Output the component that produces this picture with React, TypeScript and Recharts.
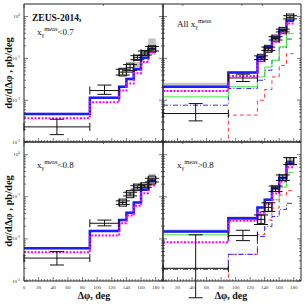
import React from "react";
import {
  ComposedChart,
  Line,
  Area,
  Scatter,
  ErrorBar,
  XAxis,
  YAxis,
  ReferenceArea,
} from "recharts";

// bin edges / centres in delta-phi (deg)
const edges = [0, 90, 130, 140, 150, 160, 170, 180];
const centers = [45, 110, 135, 145, 155, 165, 175];

const xMajor = [0, 20, 40, 60, 80, 100, 120, 140, 160, 180];
const yMajor = [0.001, 0.01, 0.1, 1];

// x_gamma^meas < 0.7
const lt07Blue = [0.0047, 0.0115, 0.021, 0.032, 0.055, 0.104, 0.17];
const lt07Magenta = [0.0037, 0.0089, 0.017, 0.025, 0.044, 0.082, 0.141];
const lt07BandLo = [0.0044, 0.0108, 0.0195, 0.03, 0.055, 0.098, 0.12];
const lt07BandHi = [0.005, 0.0122, 0.0225, 0.035, 0.082, 0.155, 0.3];
const lt07Data = [0.0023, 0.017, 0.047, 0.06, 0.104, 0.134, 0.17];
const lt07StatLo = [0.0015, 0.0138, 0.04, 0.051, 0.093, 0.12, 0.15];
const lt07StatHi = [0.0035, 0.023, 0.055, 0.071, 0.116, 0.15, 0.193];
const lt07SysLo = [null, null, 0.038, 0.047, 0.09, 0.118, 0.14];
const lt07SysHi = [null, null, 0.058, 0.077, 0.12, 0.155, 0.2];

// all x_gamma^meas
const allBlue = [0.021, 0.046, 0.107, 0.186, 0.31, 0.48, 0.8];
const allMagenta = [0.0166, 0.038, 0.085, 0.15, 0.25, 0.4, 0.68];
const allGreen = [0.012, 0.021, 0.036, 0.062, 0.09, 0.19, 0.39];
const allDashDot = [0.0076, 0.019, 0.03, 0.052, 0.09, 0.18, 0.29];
const allRed = [0.0002, 0.0044, 0.01, 0.018, 0.036, 0.068, 0.13];
const allBandLo = [0.0195, 0.042, 0.098, 0.17, 0.28, 0.44, 0.74];
const allBandHi = [0.026, 0.049, 0.115, 0.2, 0.33, 0.52, 0.88];
const allData = [0.0048, 0.034, 0.104, 0.17, 0.3, 0.46, 0.96];
const allStatLo = [0.0032, 0.028, 0.094, 0.155, 0.275, 0.43, 0.88];
const allStatHi = [0.0083, 0.042, 0.115, 0.186, 0.33, 0.5, 1.05];
const allSysLo = [null, null, 0.085, 0.14, 0.25, 0.39, 0.8];
const allSysHi = [null, null, 0.125, 0.205, 0.36, 0.55, 1.15];

// x_gamma^meas < 0.8
const lt08Blue = [0.006, 0.0155, 0.028, 0.042, 0.073, 0.147, 0.24];
const lt08Magenta = [0.0048, 0.012, 0.0235, 0.036, 0.061, 0.122, 0.186];
const lt08BandLo = [0.0057, 0.0148, 0.0265, 0.04, 0.069, 0.138, 0.18];
const lt08BandHi = [0.0064, 0.0165, 0.0295, 0.045, 0.078, 0.158, 0.35];
const lt08Data = [0.0035, 0.0235, 0.073, 0.116, 0.167, 0.18, 0.25];
const lt08StatLo = [0.0024, 0.0204, 0.066, 0.105, 0.152, 0.165, 0.225];
const lt08StatHi = [0.005, 0.028, 0.08, 0.128, 0.183, 0.197, 0.275];
const lt08SysLo = [null, null, 0.06, 0.095, 0.14, 0.15, 0.2];
const lt08SysHi = [null, null, 0.088, 0.14, 0.2, 0.215, 0.31];

// x_gamma^meas > 0.8
const gt08Blue = [0.0149, 0.031, 0.056, 0.085, 0.16, 0.28, 0.63];
const gt08Magenta = [0.0083, 0.027, 0.042, 0.067, 0.12, 0.23, 0.5];
const gt08Green = [0.0125, 0.029, 0.045, 0.07, 0.085, 0.17, 0.38];
const gt08DashDot = [0.0019, 0.0043, 0.0114, 0.0196, 0.034, 0.05, 0.07];
const gt08Red = [0.0002, 0.0043, 0.0125, 0.028, 0.054, 0.11, 0.14];
const gt08BandLo = [0.0138, 0.029, 0.052, 0.08, 0.15, 0.26, 0.58];
const gt08BandHi = [0.0168, 0.034, 0.06, 0.092, 0.175, 0.31, 0.78];
const gt08Data = [0.002, 0.012, 0.029, 0.056, 0.155, 0.285, 0.7];
const gt08StatLo = [0.0004, 0.0091, 0.022, 0.045, 0.134, 0.245, 0.58];
const gt08StatHi = [0.0125, 0.016, 0.037, 0.072, 0.18, 0.33, 0.85];
const gt08SysLo = [null, null, 0.023, 0.045, 0.134, 0.245, 0.58];
const gt08SysHi = [null, null, 0.037, 0.072, 0.18, 0.33, 0.85];

// minor ticks: every 4 deg, 2..9 per decade
const xTicks = Array.from({ length: 48 }, (_, i) => i * 4);
const yTicks = yMajor.flatMap((d) =>
  [1, 2, 3, 4, 5, 6, 7, 8, 9].map((m) => m * d)
).filter((v) => v < 2);

const SERIF = "'Liberation Serif', 'DejaVu Serif', serif";
const frame = { stroke: "#222", strokeWidth: 1 };

function XTick(props: any) {
  const { x, y, payload, side, label } = props;
  const v = payload.value;
  const major = xMajor.includes(v);
  const dir = side === "top" ? 1 : -1;
  return (
    <g>
      <line x1={x} x2={x} y1={y} y2={y + dir * (major ? 4 : 2)} stroke="#222" strokeWidth={0.6} />
      {label && major && (
        <text x={x} y={y + 7.5} fontSize={5} textAnchor="middle" fontFamily={SERIF} fill="#333">
          {v}
        </text>
      )}
    </g>
  );
}

function YTick(props: any) {
  const { x, y, payload, side, label } = props;
  const v = payload.value;
  const lg = Math.log10(v);
  const e = Math.round(lg);
  const major = Math.abs(lg - e) < 1e-6;
  const dir = side === "right" ? -1 : 1;
  return (
    <g>
      <line x1={x} x2={x + dir * (major ? 4 : 2)} y1={y} y2={y} stroke="#222" strokeWidth={0.6} />
      {label && major && (
        <text x={x - 4} y={y + 1.5} fontSize={5} textAnchor="end" fontFamily={SERIF} fill="#333">
          10
          <tspan fontSize={3.5} dy={-2}>
            {e}
          </tspan>
        </text>
      )}
    </g>
  );
}

interface PanelProps {
  margin: { top: number; right: number; bottom: number; left: number };
  blue: number[];
  magenta: number[];
  green?: number[];
  dashdot?: number[];
  red?: number[];
  bandLo: number[];
  bandHi: number[];
  data: number[];
  statLo: number[];
  statHi: number[];
  sysLo: (number | null)[];
  sysHi: (number | null)[];
  xLabels: boolean;
  yLabels: boolean;
}

function Panel(p: PanelProps) {
  const rows = edges.map((x, i) => {
    const k = Math.min(i, p.blue.length - 1);
    return {
      x,
      blue: p.blue[k],
      magenta: p.magenta[k],
      green: p.green ? p.green[k] : undefined,
      dashdot: p.dashdot ? p.dashdot[k] : undefined,
      red: p.red ? p.red[k] : undefined,
      band: [p.bandLo[k], p.bandHi[k]],
    };
  });
  const points = centers.map((x, i) => ({
    x,
    y: p.data[i],
    ex: [x - edges[i], edges[i + 1] - x],
    ey: [p.data[i] - p.statLo[i], p.statHi[i] - p.data[i]],
  }));

  return (
    <div style={{ position: "absolute", left: 0, top: 0 }}>
      <ComposedChart width={305} height={305} data={rows} margin={p.margin}>
        <XAxis
          dataKey="x"
          type="number"
          domain={[0, 190]}
          allowDataOverflow
          ticks={xTicks}
          interval={0}
          height={1}
          tickSize={0}
          tickMargin={0}
          tickLine={false}
          axisLine={frame}
          tick={(t: any) => <XTick {...t} side="bottom" label={p.xLabels} />}
        />
        <XAxis
          xAxisId="t"
          orientation="top"
          type="number"
          domain={[0, 190]}
          allowDataOverflow
          ticks={xTicks}
          interval={0}
          height={1}
          tickSize={0}
          tickMargin={0}
          tickLine={false}
          axisLine={frame}
          tick={(t: any) => <XTick {...t} side="top" label={false} />}
        />
        <YAxis
          type="number"
          scale="log"
          domain={[0.001, 2]}
          allowDataOverflow
          ticks={yTicks}
          interval={0}
          width={1}
          tickSize={0}
          tickMargin={0}
          tickLine={false}
          axisLine={frame}
          tick={(t: any) => <YTick {...t} side="left" label={p.yLabels} />}
        />
        <YAxis
          yAxisId="r"
          orientation="right"
          type="number"
          scale="log"
          domain={[0.001, 2]}
          allowDataOverflow
          ticks={yTicks}
          interval={0}
          width={1}
          tickSize={0}
          tickMargin={0}
          tickLine={false}
          axisLine={frame}
          tick={(t: any) => <YTick {...t} side="right" label={false} />}
        />
        <Area
          dataKey="band"
          type="stepAfter"
          fill="#c4c4c4"
          fillOpacity={1}
          stroke="none"
          isAnimationActive={false}
        />
        {p.red && (
          <Line dataKey="red" type="stepAfter" stroke="#ff3b3b" strokeWidth={1}
            strokeDasharray="4 3" dot={false} isAnimationActive={false} />
        )}
        {p.dashdot && (
          <Line dataKey="dashdot" type="stepAfter" stroke="#2e2eff" strokeWidth={1}
            strokeDasharray="5 2 1 2" dot={false} isAnimationActive={false} />
        )}
        {p.green && (
          <Line dataKey="green" type="stepAfter" stroke="#3ee83e" strokeWidth={1}
            dot={false} isAnimationActive={false} />
        )}
        <Line dataKey="blue" type="stepAfter" stroke="#1c1cff" strokeWidth={2.5}
          dot={false} isAnimationActive={false} />
        <Line dataKey="magenta" type="stepAfter" stroke="#ff00ff" strokeWidth={2}
          strokeDasharray="2 1.5" dot={false} isAnimationActive={false} />
        {p.sysLo.map((lo, i) =>
          lo != null ? (
            <ReferenceArea
              key={i}
              x1={edges[i]}
              x2={edges[i + 1]}
              y1={lo}
              y2={p.sysHi[i] as number}
              fill="none"
              fillOpacity={0}
              stroke="#111"
              strokeWidth={1}
            />
          ) : null
        )}
        <Scatter data={points} dataKey="y" shape={() => <g />} isAnimationActive={false}>
          <ErrorBar dataKey="ey" direction="y" width={7} stroke="#111" strokeWidth={1} />
          <ErrorBar dataKey="ex" direction="x" width={4} stroke="#111" strokeWidth={1} />
        </Scatter>
      </ComposedChart>
    </div>
  );
}

function Meas({ x, y, tail }: { x: number; y: number; tail: string }) {
  return (
    <text x={x} y={y} fontSize={9} fontFamily={SERIF} fill="#111">
      x
      <tspan fontSize={6} dy={2}>γ</tspan>
      <tspan fontSize={6.5} dy={-6.5}>meas</tspan>
      <tspan fontSize={9} dy={4.5}>{tail}</tspan>
    </text>
  );
}

export default function App() {
  return (
    <div style={{ position: "absolute", left: 0, top: 0, width: 305, height: 305, background: "#fff" }}>
      <Panel
        margin={{ top: 3, right: 141, bottom: 162, left: 23 }}
        blue={lt07Blue} magenta={lt07Magenta}
        bandLo={lt07BandLo} bandHi={lt07BandHi}
        data={lt07Data} statLo={lt07StatLo} statHi={lt07StatHi}
        sysLo={lt07SysLo} sysHi={lt07SysHi}
        xLabels={false} yLabels={true}
      />
      <Panel
        margin={{ top: 3, right: 3, bottom: 162, left: 162 }}
        blue={allBlue} magenta={allMagenta} green={allGreen} dashdot={allDashDot} red={allRed}
        bandLo={allBandLo} bandHi={allBandHi}
        data={allData} statLo={allStatLo} statHi={allStatHi}
        sysLo={allSysLo} sysHi={allSysHi}
        xLabels={false} yLabels={false}
      />
      <Panel
        margin={{ top: 141, right: 141, bottom: 23, left: 23 }}
        blue={lt08Blue} magenta={lt08Magenta}
        bandLo={lt08BandLo} bandHi={lt08BandHi}
        data={lt08Data} statLo={lt08StatLo} statHi={lt08StatHi}
        sysLo={lt08SysLo} sysHi={lt08SysHi}
        xLabels={true} yLabels={true}
      />
      <Panel
        margin={{ top: 141, right: 3, bottom: 23, left: 162 }}
        blue={gt08Blue} magenta={gt08Magenta} green={gt08Green} dashdot={gt08DashDot} red={gt08Red}
        bandLo={gt08BandLo} bandHi={gt08BandHi}
        data={gt08Data} statLo={gt08StatLo} statHi={gt08StatHi}
        sysLo={gt08SysLo} sysHi={gt08SysHi}
        xLabels={true} yLabels={false}
      />
      <svg width={305} height={305} style={{ position: "absolute", left: 0, top: 0, pointerEvents: "none" }}>
        <text x={32} y={20.5} fontSize={9.5} fontWeight="bold" fontFamily={SERIF} fill="#111">
          ZEUS-2014,
        </text>
        <Meas x={37} y={35} tail="<0.7" />
        <text x={177} y={27} fontSize={9} fontFamily={SERIF} fill="#111">
          All x
          <tspan fontSize={6} dy={2}>γ</tspan>
          <tspan fontSize={6.5} dy={-6.5}>meas</tspan>
        </text>
        <Meas x={37} y={168} tail="<0.8" />
        <Meas x={177} y={168} tail=">0.8" />
        <text transform="translate(12,73) rotate(-90)" textAnchor="middle" fontSize={10.5}
          fontWeight="bold" fontFamily={SERIF} fill="#111">
          dσ/dΔφ , pb/deg
        </text>
        <text transform="translate(12,211) rotate(-90)" textAnchor="middle" fontSize={10.5}
          fontWeight="bold" fontFamily={SERIF} fill="#111">
          dσ/dΔφ , pb/deg
        </text>
        <text x={94} y={299} textAnchor="middle" fontSize={10} fontWeight="bold" fontFamily={SERIF} fill="#111">
          Δφ, deg
        </text>
        <text x={231} y={299} textAnchor="middle" fontSize={10} fontWeight="bold" fontFamily={SERIF} fill="#111">
          Δφ, deg
        </text>
      </svg>
    </div>
  );
}
